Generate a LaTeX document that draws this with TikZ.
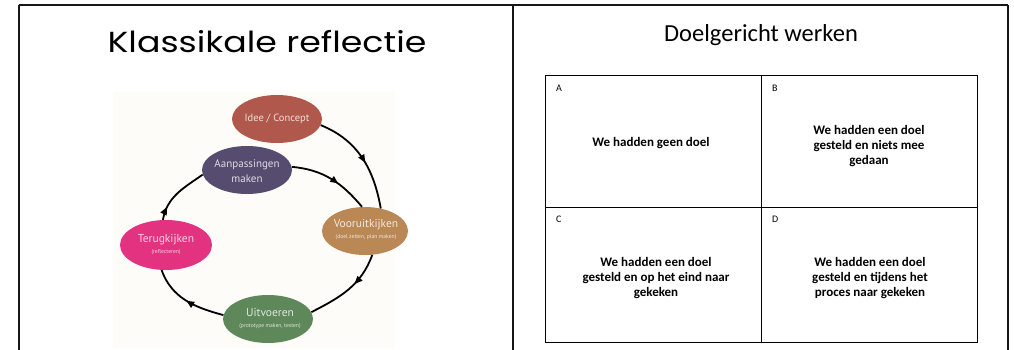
\documentclass[tikz,border=0pt]{standalone}
\usepackage{fontspec}
\setmainfont{Carlito}
\newfontfamily\headfont{Poppins}
\newfontfamily\cyclefont{PT Sans}
\usetikzlibrary{shapes.geometric,arrows.meta,decorations.markings}

\definecolor{ideecol}{RGB}{176,88,76}
\definecolor{aanpcol}{RGB}{86,76,112}
\definecolor{voorcol}{RGB}{186,136,84}
\definecolor{terugcol}{RGB}{226,50,128}
\definecolor{uitvcol}{RGB}{94,136,90}
\definecolor{paper}{RGB}{253,252,248}
\definecolor{framecol}{RGB}{22,22,22}

\begin{document}
\begin{tikzpicture}[x=1pt,y=-1pt,
  panelline/.style={draw=framecol, line width=2.6pt},
  stage/.style={ellipse, minimum width=90pt, minimum height=48pt, inner sep=0pt, fill=#1},
  stagetext/.style={font=\cyclefont\fontsize{11.5}{12}\selectfont, text=white, text opacity=0.8, align=center, inner sep=0pt},
  flow/.style={line width=1.8pt, postaction={decorate},
    decoration={markings, mark=at position #1 with {\arrow{Triangle[length=8pt,width=6.5pt]}}}},
  flow/.default=0.55,
  cell/.style={draw=black, line width=1.3pt, minimum width=216pt, inner sep=0pt, anchor=north west},
  letter/.style={font=\fontsize{10}{12}\selectfont, anchor=base west, inner sep=0pt},
  celltext/.style={font=\bfseries\fontsize{13}{15}\selectfont, align=center, inner sep=0pt}
]
\useasboundingbox (0,0) rectangle (1014,350);

% panel frames
\draw[panelline] (19,5) -- (1008,5);
\draw[panelline] (19,5) -- (19,350);
\draw[panelline] (513,5) -- (513,350);
\draw[panelline] (1008,5) -- (1008,350);

% ---------- left panel: reflection cycle ----------
\node[font=\headfont\fontsize{29}{34}\selectfont, anchor=base] (lefttitle) at (267,53) {\scalebox{1.2}[1]{Klassikale reflectie}};

\fill[paper] (113,92) rectangle (395,348);

\node[stage=ideecol]  (idee)  at (277,119) {};
\node[stage=aanpcol]  (aanp)  at (247,170) {};
\node[stage=voorcol, minimum width=86pt]  (voor)  at (365,231) {};
\node[stage=terugcol, minimum width=92pt, minimum height=50pt] (terug) at (166,245) {};
\node[stage=uitvcol]  (uitv)  at (268,319) {};

\node[stagetext, font=\cyclefont\fontsize{10.5}{11}\selectfont] (ideet) at (277,119) {Idee / Concept};
\node[stagetext, font=\cyclefont\fontsize{11}{14.5}\selectfont] (aanpt) at (247,171) {Aanpassingen\\maken};
\node[stagetext] (voort) at (366,230) {Vooruitkijken\\[-1pt]{\fontsize{5.6}{6.5}\selectfont (doel zetten, plan maken)}};
\node[stagetext] (terugt) at (166,245) {Terugkijken\\[-1pt]{\fontsize{5.6}{6.5}\selectfont (reflecteren)}};
\node[stagetext] (uitvt) at (270,319) {Uitvoeren\\[-1pt]{\fontsize{5.6}{6.5}\selectfont (prototype maken, testen)}};

\draw[flow=0.55] (idee.-8) to[out=-22, in=100] (voor.55);
\draw[flow=0.6] (aanp.4) to[out=-5, in=130] (voor.97);
\draw[flow=0.4] (voor.-73) to[out=-110, in=27] (uitv.9);
\draw[flow=0.5] (uitv.175) to[out=165, in=-70] (terug.-100);
\draw[flow=0.22] (terug.97) to[out=80, in=-145] (aanp.186);

% ---------- right panel: goal-oriented work ----------
\node[font=\fontsize{24.5}{28}\selectfont, anchor=base] (righttitle) at (761,42) {Doelgericht werken};

\node[cell, minimum height=132pt] (cA) at (545,75) {};
\node[cell, minimum height=132pt] (cB) at (761,75) {};
\node[cell, minimum height=135pt] (cC) at (545,207) {};
\node[cell, minimum height=135pt] (cD) at (761,207) {};

\node[letter] (lA) at (556,92) {A};
\node[letter] (lB) at (772,92) {B};
\node[letter] (lC) at (556,222) {C};
\node[letter] (lD) at (772,222) {D};

\node[celltext] (tA) at (651,143) {We hadden geen doel};
\node[celltext] (tB) at (869,146) {We hadden een doel\\gesteld en niets mee\\gedaan};
\node[celltext] (tC) at (656,278) {We hadden een doel\\gesteld en op het eind naar\\gekeken};
\node[celltext] (tD) at (870,278) {We hadden een doel\\gesteld en tijdens het\\proces naar gekeken};
\end{tikzpicture}
\end{document}
